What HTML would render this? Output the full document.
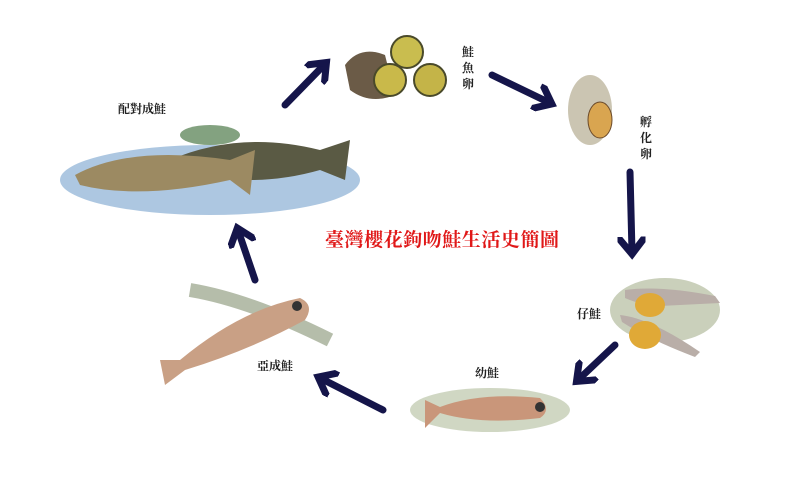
<!DOCTYPE html>
<html><head><meta charset="utf-8"><style>
html,body{margin:0;padding:0;background:#fff}
svg{display:block}
.l{font-family:"Liberation Serif","Noto Serif CJK SC","Noto Sans CJK TC",serif;font-size:12px;font-weight:bold;fill:#222}
</style></head><body>
<svg width="800" height="500" viewBox="0 0 800 500" xmlns="http://www.w3.org/2000/svg">
<defs>
<marker id="ah" markerWidth="4" markerHeight="4" refX="2.2" refY="2" orient="auto" markerUnits="strokeWidth">
<path d="M0,0 L2.5,2 L0,4" fill="none" stroke="#15154a" stroke-width="1"/></marker>
</defs>
<g stroke="#15154a" stroke-width="7" fill="none" stroke-linecap="round" marker-end="url(#ah)">
<line x1="285" y1="105" x2="325" y2="64"/>
<line x1="492" y1="75" x2="550" y2="103"/>
<line x1="630" y1="172" x2="632" y2="252"/>
<line x1="615" y1="345" x2="578" y2="380"/>
<line x1="383" y1="410" x2="320" y2="378"/>
<line x1="255" y1="280" x2="238" y2="230"/>
</g>
<!-- adult pair -->
<ellipse cx="210" cy="180" rx="150" ry="35" fill="#5c8fc4" opacity="0.5"/>
<ellipse cx="210" cy="135" rx="30" ry="10" fill="#4f7a4a" opacity="0.7"/>
<path d="M170,160 Q240,130 320,150 L350,140 L345,180 L320,170 Q250,190 180,170 Z" fill="#5a5a44"/>
<path d="M75,175 Q130,145 230,160 L255,150 L250,195 L230,180 Q140,200 80,185 Z" fill="#9c8a62"/>
<!-- eggs -->
<path d="M345,65 Q360,45 385,55 L395,95 Q370,105 350,90 Z" fill="#6b5b47"/>
<circle cx="407" cy="52" r="16" fill="#c9bd4f" stroke="#4a4a2a" stroke-width="2"/>
<circle cx="390" cy="80" r="16" fill="#c9b94a" stroke="#4a4a2a" stroke-width="2"/>
<circle cx="430" cy="80" r="16" fill="#c4b448" stroke="#4a4a2a" stroke-width="2"/>
<!-- hatching egg -->
<ellipse cx="590" cy="110" rx="22" ry="35" fill="#8b7f55" opacity="0.45"/>
<ellipse cx="600" cy="120" rx="12" ry="18" fill="#d9a550" stroke="#6b4a2a"/>
<!-- alevins -->
<ellipse cx="665" cy="310" rx="55" ry="32" fill="#7a8a55" opacity="0.4"/>
<path d="M625,290 Q660,285 715,296 L720,303 L660,306 Q640,305 625,298Z" fill="#b9aea8"/>
<ellipse cx="650" cy="305" rx="15" ry="12" fill="#e0a937"/>
<path d="M620,315 Q650,318 700,352 L695,357 Q650,340 622,322Z" fill="#b9aea8"/>
<ellipse cx="645" cy="335" rx="16" ry="14" fill="#e0a937"/>
<!-- juvenile -->
<ellipse cx="490" cy="410" rx="80" ry="22" fill="#8a9a6a" opacity="0.4"/>
<path d="M425,400 L440,407 Q480,392 540,398 Q552,410 540,418 Q480,425 440,413 L425,428 Z" fill="#c9967a"/>
<circle cx="540" cy="407" r="5" fill="#333"/>
<!-- subadult -->
<path d="M190,290 Q250,300 330,340" stroke="#6b7b55" stroke-width="14" fill="none" opacity="0.5"/>
<path d="M160,360 L180,360 Q240,310 300,298 Q315,305 305,320 Q250,350 185,370 L165,385 Z" fill="#c9a085"/>
<circle cx="297" cy="306" r="5" fill="#333"/>
<text class="l" x="118" y="113">配對成鮭</text>
<text class="l" x="462" y="56">鮭</text><text class="l" x="462" y="72">魚</text><text class="l" x="462" y="88">卵</text>
<text class="l" x="640" y="126">孵</text><text class="l" x="640" y="142">化</text><text class="l" x="640" y="158">卵</text>
<text class="l" x="577" y="318">仔鮭</text>
<text class="l" x="475" y="377">幼鮭</text>
<text class="l" x="257" y="370">亞成鮭</text>
<text x="325" y="246" font-family="Liberation Serif,'Noto Serif CJK SC',serif" font-size="19" font-weight="bold" fill="#e01818" textLength="234">臺灣櫻花鉤吻鮭生活史簡圖</text>
</svg>
</body></html>
